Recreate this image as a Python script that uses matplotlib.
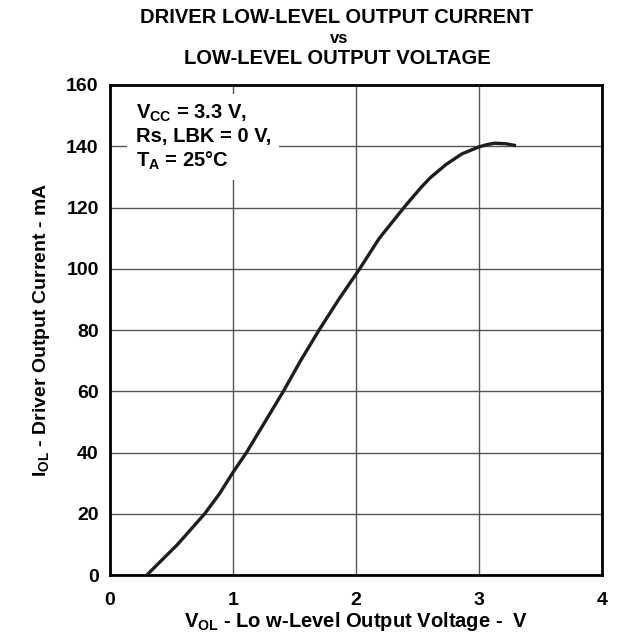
import numpy as np
import matplotlib.pyplot as plt

plt.rcParams['font.family'] = ['Liberation Sans', 'DejaVu Sans']
plt.rcParams['font.weight'] = 'bold'
plt.rcParams['mathtext.fontset'] = 'custom'
plt.rcParams['mathtext.bf'] = 'Liberation Sans:bold'
plt.rcParams['mathtext.rm'] = 'Liberation Sans:bold'
plt.rcParams['mathtext.default'] = 'bf'

# Curva
v_ol = [0.30, 0.40, 0.55, 0.66, 0.77, 0.89, 1.00, 1.11, 1.26, 1.41, 1.55,
        1.70, 1.86, 2.03, 2.19, 2.30, 2.40, 2.47, 2.53, 2.60, 2.73, 2.86,
        3.00, 3.07, 3.13, 3.22, 3.30]
i_ol = [0, 4, 10, 15, 20, 26.5, 33.5, 40, 50, 60, 70,
        80, 90, 100, 110, 115.5, 120.5, 123.8, 126.6, 129.6, 134, 137.5,
        139.8, 140.6, 141, 140.8, 140.2]

x_ticks = [0, 1, 2, 3, 4]
y_ticks = [0, 20, 40, 60, 80, 100, 120, 140, 160]

fig = plt.figure(figsize=(6.24, 6.39), dpi=100)
ax = fig.add_axes([0.176, 0.100, 0.789, 0.767])

ax.plot(v_ol, i_ol, color='#1e1e1e', linewidth=2.4, solid_capstyle='butt',
        solid_joinstyle='round', zorder=3)

ax.set_xlim(0, 4)
ax.set_ylim(0, 160)
ax.set_xticks(x_ticks)
ax.set_yticks(y_ticks)
ax.tick_params(length=0, labelsize=14)
ax.tick_params(axis='x', pad=12)
ax.tick_params(axis='y', pad=8)
for lbl in ax.get_xticklabels() + ax.get_yticklabels():
    lbl.set_fontweight('bold')
ax.grid(True, color='#555555', linewidth=1)
for s in ax.spines.values():
    s.set_linewidth(2)
    s.set_color('black')

ax.text(0.21, 143, '$V_{CC}$ = 3.3 V,\nRs, LBK = 0 V,\n$T_A$ = 25°C',
        fontsize=14.5, fontweight='bold', va='center', ha='left', linespacing=1.2,
        bbox=dict(facecolor='white', edgecolor='none', pad=6), zorder=4)

ax.set_xlabel('$V_{OL}$ - Lo w-Level Output Voltage -  V', fontsize=14.5,
              fontweight='bold', labelpad=1)
ax.set_ylabel('$I_{OL}$ - Driver Output Current - mA', fontsize=14,
              fontweight='bold', labelpad=10)

fig.text(0.54, 0.973, 'DRIVER LOW-LEVEL OUTPUT CURRENT', ha='center', va='center',
         fontsize=14.5, fontweight='bold')
fig.text(0.543, 0.940, 'vs', ha='center', va='center', fontsize=12, fontweight='bold')
fig.text(0.54, 0.909, 'LOW-LEVEL OUTPUT VOLTAGE', ha='center', va='center',
         fontsize=14.5, fontweight='bold')

fig.savefig('out.png', dpi=100)
